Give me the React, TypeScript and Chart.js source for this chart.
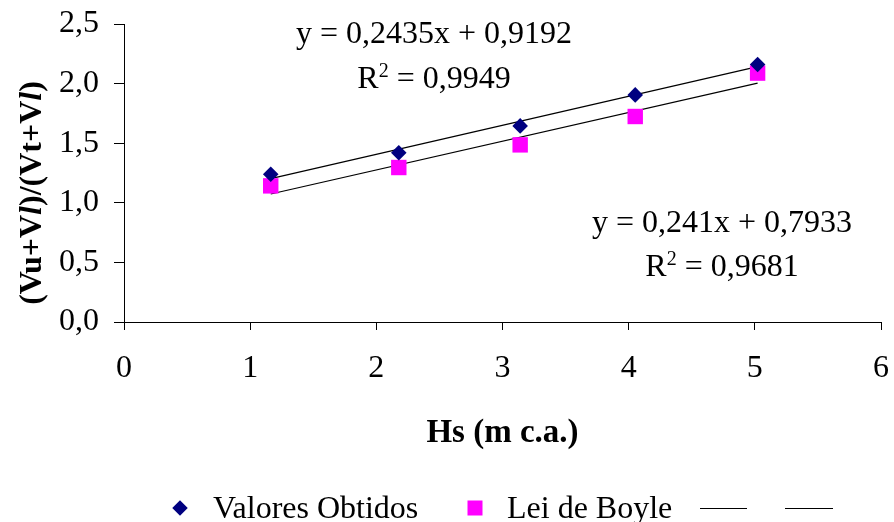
import React, { useEffect, useRef } from 'react';
import { Chart, registerables } from 'chart.js';

Chart.register(...registerables);

// ---- data ----
const hsValues = [1.163, 2.178, 3.14, 4.052, 5.022];
const valoresObtidos = [1.24, 1.42, 1.645, 1.905, 2.16];
const leiDeBoyle = [1.142, 1.296, 1.486, 1.724, 2.088];
const seriesNames = ['Valores Obtidos', 'Lei de Boyle'];
const trendSlopes = [0.2435, 0.241];
const trendIntercepts = [0.9192, 0.7933];
const trendR2 = [0.9949, 0.9681];
const xTitle = 'Hs (m c.a.)';
const xMin = 0;
const xMax = 6;
const yMin = 0;
const yMax = 2.5;

const SERIF = '"Liberation Serif", "Times New Roman", serif';
const NAVY = '#000080';
const MAGENTA = '#FF00FF';

const fmtComma = (v: number) => String(v).replace('.', ',');

type Part = { text: string; font: string; dy?: number };

function drawParts(ctx: CanvasRenderingContext2D, parts: Part[], cx: number, baseline: number) {
  let total = 0;
  const widths = parts.map((p) => {
    ctx.font = p.font;
    const w = ctx.measureText(p.text).width;
    total += w;
    return w;
  });
  let x = cx - total / 2;
  ctx.textAlign = 'left';
  ctx.textBaseline = 'alphabetic';
  parts.forEach((p, i) => {
    ctx.font = p.font;
    ctx.fillText(p.text, x, baseline + (p.dy || 0));
    x += widths[i];
  });
}

const overlayPlugin = {
  id: 'overlay',
  afterDraw(chart: any) {
    const ctx: CanvasRenderingContext2D = chart.ctx;
    const area = chart.chartArea;
    ctx.save();
    ctx.fillStyle = '#000';
    const main = `32px ${SERIF}`;
    const sup = `20px ${SERIF}`;

    // trendline equations
    const eqPos = [
      { cx: 434, b1: 43, b2: 88 },
      { cx: 722, b1: 232, b2: 276 },
    ];
    eqPos.forEach((p, i) => {
      drawParts(ctx, [{ text: `y = ${fmtComma(trendSlopes[i])}x + ${fmtComma(trendIntercepts[i])}`, font: main }], p.cx, p.b1);
      drawParts(
        ctx,
        [
          { text: 'R', font: main },
          { text: '2', font: sup, dy: -11 },
          { text: ` = ${fmtComma(trendR2[i])}`, font: main },
        ],
        p.cx,
        p.b2
      );
    });

    // x axis title
    drawParts(ctx, [{ text: xTitle, font: `bold 33px ${SERIF}` }], (area.left + area.right) / 2, 442);

    // y axis title (rotated)
    ctx.save();
    ctx.translate(41, 193);
    ctx.rotate(-Math.PI / 2);
    const b = `bold 32px ${SERIF}`;
    const bi = `italic bold 32px ${SERIF}`;
    drawParts(
      ctx,
      [
        { text: '(Vu+V', font: b },
        { text: 'l', font: bi },
        { text: ')/(Vt+V', font: b },
        { text: 'l', font: bi },
        { text: ')', font: b },
      ],
      0,
      0
    );
    ctx.restore();

    // legend
    const ly = 508;
    ctx.fillStyle = NAVY;
    ctx.beginPath();
    ctx.moveTo(180, ly - 7.75);
    ctx.lineTo(187.75, ly);
    ctx.lineTo(180, ly + 7.75);
    ctx.lineTo(172.25, ly);
    ctx.closePath();
    ctx.fill();
    ctx.fillStyle = MAGENTA;
    ctx.fillRect(467.5, ly - 7.5, 15, 15);
    ctx.fillStyle = '#000';
    ctx.font = main;
    ctx.textAlign = 'left';
    ctx.textBaseline = 'alphabetic';
    ctx.fillText(seriesNames[0], 213, 518);
    ctx.fillText(seriesNames[1], 507, 518);
    ctx.strokeStyle = '#000';
    ctx.lineWidth = 1;
    ctx.beginPath();
    ctx.moveTo(700, ly + 0.5);
    ctx.lineTo(747, ly + 0.5);
    ctx.moveTo(785, ly + 0.5);
    ctx.lineTo(833, ly + 0.5);
    ctx.stroke();
    ctx.restore();
  },
};

export default function App() {
  const canvasRef = useRef<HTMLCanvasElement>(null);

  useEffect(() => {
    const canvas = canvasRef.current;
    if (!canvas) return;
    const xs0 = Math.min(...hsValues);
    const xs1 = Math.max(...hsValues);
    const trendData = trendSlopes.map((s, i) => [
      { x: xs0, y: s * xs0 + trendIntercepts[i] },
      { x: xs1, y: s * xs1 + trendIntercepts[i] },
    ]);

    const chart = new Chart(canvas, {
      type: 'scatter',
      data: {
        datasets: [
          {
            label: 'trend1',
            data: trendData[0],
            showLine: true,
            borderColor: '#000',
            borderWidth: 1.2,
            pointRadius: 0,
            order: 3,
          },
          {
            label: 'trend2',
            data: trendData[1],
            showLine: true,
            borderColor: '#000',
            borderWidth: 1.2,
            pointRadius: 0,
            order: 3,
          },
          {
            label: seriesNames[1],
            data: hsValues.map((x, i) => ({ x, y: leiDeBoyle[i] })),
            pointStyle: 'rect',
            pointRadius: 10.9,
            pointBackgroundColor: MAGENTA,
            pointBorderWidth: 0,
            borderColor: MAGENTA,
            order: 2,
          },
          {
            label: seriesNames[0],
            data: hsValues.map((x, i) => ({ x, y: valoresObtidos[i] })),
            pointStyle: 'rectRot',
            pointRadius: 7.8,
            pointBackgroundColor: NAVY,
            pointBorderWidth: 0,
            borderColor: NAVY,
            order: 1,
          },
        ],
      },
      options: {
        animation: false,
        responsive: false,
        layout: { padding: { left: 0, right: 13, top: 24, bottom: 0 }, autoPadding: false },
        plugins: {
          legend: { display: false },
          tooltip: { enabled: false },
        },
        scales: {
          x: {
            type: 'linear',
            min: xMin,
            max: xMax,
            afterFit: (scale: any) => {
              scale.height = 200;
              scale.paddingLeft = 0;
              scale.paddingRight = 0;
            },
            ticks: {
              stepSize: 1,
              color: '#000',
              padding: 19,
              font: { family: SERIF, size: 32 },
              callback: (v: any) => String(v),
            },
            grid: { drawOnChartArea: false, drawTicks: true, tickLength: 8, color: '#000' },
            border: { display: true, color: '#000', width: 1 },
          },
          y: {
            type: 'linear',
            min: yMin,
            max: yMax,
            afterFit: (scale: any) => {
              scale.width = 124;
              scale.paddingTop = 0;
              scale.paddingBottom = 0;
            },
            ticks: {
              stepSize: 0.5,
              color: '#000',
              padding: 15,
              font: { family: SERIF, size: 32 },
              callback: (v: any) => Number(v).toFixed(1).replace('.', ','),
            },
            grid: { drawOnChartArea: false, drawTicks: true, tickLength: 10, color: '#000' },
            border: { display: true, color: '#000', width: 1 },
          },
        },
      },
      plugins: [overlayPlugin],
    });
    return () => chart.destroy();
  }, []);

  return (
    <div style={{ position: 'fixed', left: 0, top: 0, width: 894, height: 522, background: '#fff' }}>
      <canvas ref={canvasRef} width={894} height={522} style={{ width: 894, height: 522, display: 'block' }} />
    </div>
  );
}
